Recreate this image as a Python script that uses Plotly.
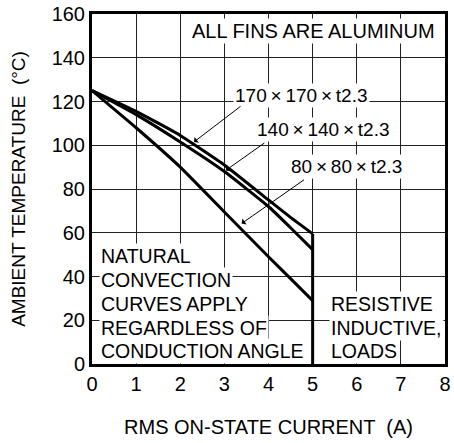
import plotly.graph_objects as go

current = [0, 1, 2, 3, 4, 4.5, 5]
temp_170 = [125, 115.5, 104.5, 91, 75, 67, 59.5]
temp_140 = [125, 114, 101.5, 88, 72, 62.3, 52.3]
temp_80 = [125, 108, 90, 69.5, 49, 39, 29]
limit_x = [5, 5]
limit_y = [0, 59.5]

x_ticks = [0, 1, 2, 3, 4, 5, 6, 7, 8]
y_ticks = [0, 20, 40, 60, 80, 100, 120, 140, 160]

FONT = "Liberation Sans, Arial, sans-serif"
TICK_FS = 20
TXT_FS = 19.5
T = "\u2009"

fig = go.Figure()
for ys in (temp_170, temp_140, temp_80):
    fig.add_trace(go.Scatter(x=current, y=ys, mode="lines", line=dict(color="black", width=3, shape="spline", smoothing=0.4), showlegend=False))
fig.add_trace(go.Scatter(x=limit_x, y=limit_y, mode="lines", line=dict(color="black", width=3), showlegend=False))

def txt(x, y, s, xanchor="center", size=TXT_FS):
    fig.add_annotation(x=x, y=y, xref="x", yref="y", text=s, showarrow=False, xanchor=xanchor, yanchor="middle",
                       font=dict(family=FONT, size=size, color="black"), bgcolor="white", borderpad=1)

def arrow_label(x, y, s, tx, ty, ax, ay):
    txt(x, y, s, size=19)
    fig.add_annotation(x=tx, y=ty, ax=ax, ay=ay, xref="x", yref="y", axref="x", ayref="y", text="", showarrow=True,
                       arrowhead=1, arrowsize=1.2, arrowwidth=1, arrowcolor="black")

txt(5.02, 152.4, "ALL FINS ARE ALUMINUM", size=20)
arrow_label(4.74, 122.9, f"170{T}×{T}170{T}×{T}t2.3", 2.31, 101.5, 3.4, 118.3)
arrow_label(5.25, 107, f"140{T}×{T}140{T}×{T}t2.3", 3.03, 88.5, 3.94, 101.5)
arrow_label(5.76, 90.1, f"80{T}×{T}80{T}×{T}t2.3", 3.39, 64.2, 4.84, 84.7)

left_lines = ["NATURAL", "CONVECTION", "CURVES APPLY", "REGARDLESS OF", "CONDUCTION ANGLE"]
left_y = [49.2, 38.3, 27.4, 16.5, 6.0]
for s, y in zip(left_lines, left_y):
    txt(0.15, y, s, xanchor="left")
right_lines = ["RESISTIVE", "INDUCTIVE,", "LOADS"]
right_y = [27.4, 16.5, 6.0]
for s, y in zip(right_lines, right_y):
    txt(5.38, y, s, xanchor="left")

axis_common = dict(showline=True, linecolor="black", linewidth=3, mirror=True, showgrid=True, gridcolor="#222", gridwidth=1,
                   zeroline=False, ticks="", ticklabeloverflow="allow", tickfont=dict(family=FONT, size=TICK_FS, color="black"))
fig.update_xaxes(range=[0, 8], tickvals=x_ticks, ticktext=[str(v) for v in x_ticks],
                 title=dict(text="RMS ON-STATE CURRENT  (A)", font=dict(family=FONT, size=20, color="black"), standoff=26), **axis_common)
fig.update_yaxes(range=[0, 160], tickvals=y_ticks, ticktext=[str(v) for v in y_ticks],
                 title=dict(text="AMBIENT TEMPERATURE  (°C)", font=dict(family=FONT, size=19, color="black"), standoff=21), **axis_common)
fig.update_layout(width=454, height=443, margin=dict(l=92, r=3, t=12, b=79), plot_bgcolor="white", paper_bgcolor="white",
                  font=dict(family=FONT, size=TICK_FS, color="black"))
fig.write_html("out.html", config={"displayModeBar": False}, post_script="document.body.style.margin='0';")
